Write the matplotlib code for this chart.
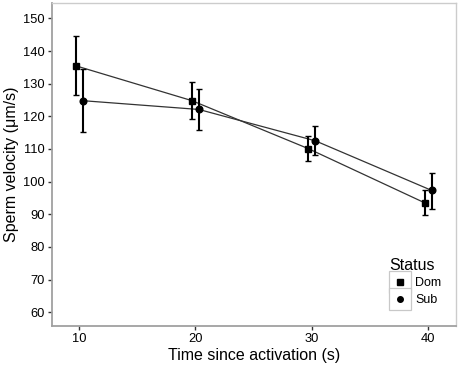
import numpy as np
import matplotlib.pyplot as plt
from matplotlib.legend_handler import HandlerBase
from matplotlib.patches import Rectangle
from matplotlib.lines import Line2D

plt.rcParams['font.family'] = ['Liberation Sans', 'DejaVu Sans']

# 数据
time = [10, 20, 30, 40]
dom_mean = [135.5, 124.8, 110.1, 93.5]
dom_lo = [126.4, 119.1, 106.3, 89.9]
dom_hi = [144.6, 130.6, 114.1, 97.3]
sub_mean = [124.8, 122.1, 112.5, 97.3]
sub_lo = [115.3, 115.9, 108.1, 91.7]
sub_hi = [134.4, 128.4, 117.1, 102.8]
dodge = 0.3


class BoxKey(HandlerBase):
    def create_artists(self, legend, orig, xd, yd, w, h, fontsize, trans):
        s = max(w, h)
        r = Rectangle((-xd + (w - s) / 2, -yd + (h - s) / 2), s, s, facecolor='white',
                      edgecolor='#c8c8c8', lw=0.9, transform=trans)
        m = Line2D([-xd + w / 2], [-yd + h / 2], marker=orig.get_marker(), color='black',
                   markersize=orig.get_markersize(), linestyle='none', transform=trans)
        return [r, m]


fig = plt.figure(figsize=(4.59, 3.68), dpi=100)
ax = fig.add_axes([52 / 459, 42 / 368, 404 / 459, 323 / 368])

for mean, lo, hi, off, mk in [(dom_mean, dom_lo, dom_hi, -dodge, 's'),
                              (sub_mean, sub_lo, sub_hi, dodge, 'o')]:
    x = np.array(time) + off
    mean = np.array(mean)
    err = [mean - np.array(lo), np.array(hi) - mean]
    ax.plot(x, mean, color='#333333', lw=0.9, zorder=2)
    ax.errorbar(x, mean, yerr=err, fmt='none', ecolor='black', elinewidth=1.5,
                capsize=2.5, capthick=1.0, zorder=3)
    ax.plot(x, mean, marker=mk, linestyle='none', color='black', markersize=4.8, zorder=4)

ax.set_xlim(7.68, 42.38)
ax.set_ylim(55.8, 154.7)
ax.set_xticks(time)
ax.set_yticks(range(60, 151, 10))
ax.tick_params(direction='out', length=3, width=1, color='#333333', labelsize=9.3, pad=2)
for side in ['left', 'bottom']:
    ax.spines[side].set_color('#a0a0a0')
    ax.spines[side].set_linewidth(1.3)
for side in ['top', 'right']:
    ax.spines[side].set_color('#cccccc')
    ax.spines[side].set_linewidth(1.0)

ax.set_xlabel('Time since activation (s)', fontsize=11.5, labelpad=2)
ax.set_ylabel('Sperm velocity (μm/s)', fontsize=11.5, labelpad=3)

h1 = Line2D([], [], marker='s', linestyle='none', color='black', markersize=4)
h2 = Line2D([], [], marker='o', linestyle='none', color='black', markersize=4)
leg = ax.legend([h1, h2], ['Dom', 'Sub'], title='Status', handler_map={Line2D: BoxKey()},
                loc='lower right', bbox_to_anchor=(0.985, 0.03), frameon=False,
                fontsize=9, title_fontsize=11.5, handlelength=1.75, handleheight=1.75,
                handletextpad=0.3, labelspacing=0.0, borderpad=0.2)
leg._legend_box.align = 'left'

fig.savefig('out.png', dpi=100)
